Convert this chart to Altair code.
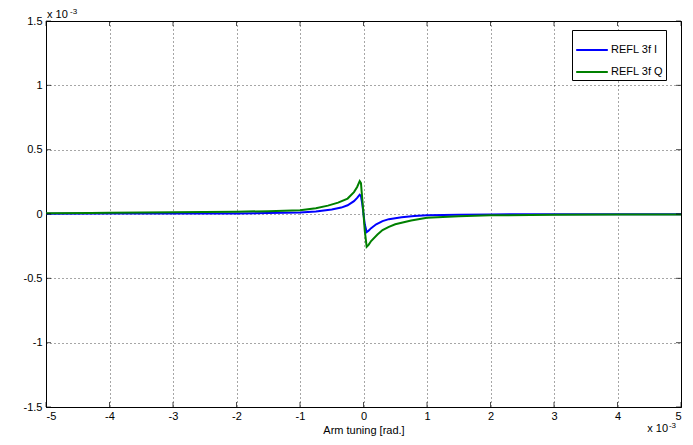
import altair as alt
import pandas as pd

# values in units of 1e-3
x_i = [-5, -4, -3, -2, -1.5, -1, -0.75, -0.5, -0.35, -0.25, -0.15, -0.1, -0.06, -0.04, -0.02, 0,
       0.02, 0.05, 0.08, 0.12, 0.2, 0.3, 0.4, 0.6, 0.8, 1, 1.5, 2, 3, 4, 5]
y_i = [0.002, 0.003, 0.003, 0.004, 0.008, 0.012, 0.02, 0.035, 0.05, 0.068, 0.1, 0.125, 0.15, 0.14, 0.08, 0,
       -0.08, -0.14, -0.13, -0.11, -0.08, -0.055, -0.04, -0.025, -0.015, -0.01, -0.005, -0.003, -0.002, -0.001, -0.001]

x_q = [-5, -4.3, -4, -3, -2, -1.5, -1, -0.75, -0.56, -0.4, -0.25, -0.15, -0.1, -0.06, -0.04, -0.02, 0,
       0.02, 0.05, 0.08, 0.12, 0.22, 0.3, 0.4, 0.5, 0.75, 1, 1.5, 2, 3, 4, 5]
y_q = [0.005, 0.008, 0.01, 0.013, 0.018, 0.022, 0.03, 0.045, 0.065, 0.088, 0.12, 0.17, 0.21, 0.255, 0.24, 0.12, 0,
       -0.13, -0.255, -0.24, -0.21, -0.16, -0.125, -0.1, -0.08, -0.05, -0.03, -0.018, -0.01, -0.006, -0.004, -0.003]

series = ["REFL 3f I", "REFL 3f Q"]
colors = ["#0000ff", "#008000"]
x_ticks = [-5, -4, -3, -2, -1, 0, 1, 2, 3, 4, 5]
y_ticks = [-1.5, -1, -0.5, 0, 0.5, 1, 1.5]
exp_base = ["x 10"]
exp_pow = ["-3"]

df = pd.DataFrame(
    {"x": x_i + x_q,
     "y": y_i + y_q,
     "s": [series[0]] * len(x_i) + [series[1]] * len(x_q),
     "o": list(range(len(x_i))) + list(range(len(x_q)))}
)
dxt = pd.DataFrame({"v": x_ticks})
dyt = pd.DataFrame({"v": y_ticks})
dex = pd.DataFrame({"b": exp_base, "p": exp_pow})

FONT = "Liberation Sans"
xs = alt.Scale(domain=[-5, 5], nice=False, zero=False)
ys = alt.Scale(domain=[-1.5, 1.5], nice=False, zero=False)

xaxis = alt.Axis(values=x_ticks, title="Arm tuning [rad.]", labelExpr="toString(datum.value)",
                 grid=True, ticks=False, labelPadding=3, titlePadding=3)
yaxis = alt.Axis(values=y_ticks, title=None, labelExpr="toString(datum.value)",
                 grid=True, ticks=False, labelPadding=4)

lines = alt.Chart(df).mark_line(strokeWidth=2).encode(
    x=alt.X("x:Q", scale=xs, axis=xaxis),
    y=alt.Y("y:Q", scale=ys, axis=yaxis),
    color=alt.Color("s:N", scale=alt.Scale(domain=series, range=colors),
                    legend=alt.Legend(title=None, orient="none", legendX=526, legendY=9,
                                      symbolType="stroke", symbolSize=1000, symbolStrokeWidth=2,
                                      labelFont=FONT, labelFontSize=11, labelColor="black",
                                      strokeColor="black", fillColor="white", padding=3,
                                      rowPadding=0, labelOffset=2)),
    order="o:Q",
)

tb = alt.Chart(dxt).mark_tick(orient="vertical", size=5, thickness=1, color="black", yOffset=-2.5).encode(
    x=alt.X("v:Q", scale=xs), y=alt.datum(-1.5, scale=ys))
tt = alt.Chart(dxt).mark_tick(orient="vertical", size=5, thickness=1, color="black", yOffset=2.5).encode(
    x=alt.X("v:Q", scale=xs), y=alt.datum(1.5, scale=ys))
tl = alt.Chart(dyt).mark_tick(orient="horizontal", size=5, thickness=1, color="black", xOffset=2.5).encode(
    y=alt.Y("v:Q", scale=ys), x=alt.datum(-5, scale=xs))
tr = alt.Chart(dyt).mark_tick(orient="horizontal", size=5, thickness=1, color="black", xOffset=-2.5).encode(
    y=alt.Y("v:Q", scale=ys), x=alt.datum(5, scale=xs))

ex1 = alt.Chart(dex).mark_text(align="left", baseline="bottom", dx=1, dy=-1,
                               font=FONT, fontSize=11, color="black").encode(
    text="b:N", x=alt.datum(-5, scale=xs), y=alt.datum(1.5, scale=ys))
ex2 = alt.Chart(dex).mark_text(align="left", baseline="bottom", dx=24, dy=-5,
                               font=FONT, fontSize=8, color="black").encode(
    text="p:N", x=alt.datum(-5, scale=xs), y=alt.datum(1.5, scale=ys))
ex3 = alt.Chart(dex).mark_text(align="right", baseline="bottom", dx=-13, dy=27,
                               font=FONT, fontSize=11, color="black").encode(
    text="b:N", x=alt.datum(5, scale=xs), y=alt.datum(-1.5, scale=ys))
ex4 = alt.Chart(dex).mark_text(align="right", baseline="bottom", dx=-5, dy=23,
                               font=FONT, fontSize=8, color="black").encode(
    text="p:N", x=alt.datum(5, scale=xs), y=alt.datum(-1.5, scale=ys))

chart = alt.layer(lines, tb, tt, tl, tr, ex1, ex2, ex3, ex4).properties(
    width=635, height=386,
    padding={"left": 38, "top": 13, "right": 4, "bottom": 30},
    autosize=alt.AutoSizeParams(type="none"),
    background="white",
).configure_view(stroke="black", strokeWidth=1).configure_axis(
    labelFont=FONT, labelFontSize=11, labelColor="black", titleFont=FONT, titleFontSize=11,
    titleFontWeight="normal", titleColor="black", domainColor="black", gridColor="black",
    gridDash=[1, 3], gridOpacity=0.7,
)

chart.save("out.html", embed_options={"renderer": "svg", "actions": False})
